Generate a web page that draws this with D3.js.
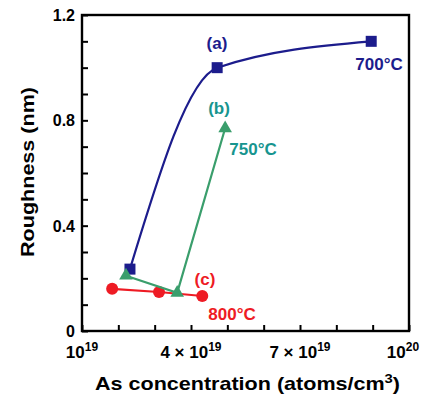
<!DOCTYPE html>
<html>
<head>
<meta charset="utf-8">
<script src="https://cdn.jsdelivr.net/npm/d3@7"></script>
<style>
  body { margin: 0; background: #fff; }
  text { font-family: "Liberation Sans", Arial, sans-serif; font-weight: bold; }
</style>
</head>
<body>
<div id="chart"></div>
<script>
// data (x in units of 1e19 atoms/cm3, y in nm)
const seriesA_x = [2.32, 4.72, 8.96];
const seriesA_y = [0.235, 1.0, 1.1];
const seriesB_x = [2.21, 3.62, 4.94];
const seriesB_y = [0.21, 0.145, 0.77];
const seriesC_x = [1.83, 3.12, 4.31];
const seriesC_y = [0.16, 0.148, 0.133];

const xTickLabels = [[1, "10", "19"], [4, "4 \u00d7 10", "19"], [7, "7 \u00d7 10", "19"], [10, "10", "20"]];
const yTickLabels = [0, 0.4, 0.8, 1.2];

const navy = "#1c1c8c";
const green = "#3a9e6c";
const teal = "#17958f";
const red = "#ee1b24";

const width = 425, height = 398;
const margin = { left: 82, right: 16, top: 15, bottom: 67 };

const svg = d3.select("#chart").append("svg")
  .attr("width", width)
  .attr("height", height);

const x = d3.scaleLinear().domain([1, 10]).range([margin.left, width - margin.right]);
const y = d3.scaleLinear().domain([0, 1.2]).range([height - margin.bottom, margin.top]);

// frame
svg.append("rect")
  .attr("x", x(1)).attr("y", y(1.2))
  .attr("width", x(10) - x(1)).attr("height", y(0) - y(1.2))
  .attr("fill", "none").attr("stroke", "#000").attr("stroke-width", 2.4);

// inward ticks
const xAxis = d3.axisTop(x).tickValues(d3.range(1, 11)).tickSize(6).tickFormat("");
svg.append("g").attr("transform", `translate(0,${y(0)})`).call(xAxis)
  .call(g => g.select(".domain").remove())
  .selectAll("line").attr("stroke-width", 2);

const yAxis = d3.axisRight(y).tickValues(d3.range(0, 13).map(d => d / 10)).tickSize(6).tickFormat("");
svg.append("g").attr("transform", `translate(${x(1)},0)`).call(yAxis)
  .call(g => g.select(".domain").remove())
  .selectAll("line").attr("stroke-width", 2);

// y tick labels
svg.selectAll(".ylab").data(yTickLabels).enter().append("text")
  .attr("x", x(1) - 7)
  .attr("y", d => y(d) + 6)
  .attr("text-anchor", "end")
  .attr("font-size", 16)
  .text(d => d === 0 ? "0" : d.toFixed(1));

// x tick labels with superscripts
const xl = svg.selectAll(".xlab").data(xTickLabels).enter().append("text")
  .attr("x", d => d[0] === 10 ? x(d[0]) - 6 : x(d[0]))
  .attr("y", y(0) + 27)
  .attr("text-anchor", "middle")
  .attr("font-size", 17);
xl.append("tspan").text(d => d[1]);
xl.append("tspan").attr("dy", -7).attr("font-size", 12).text(d => d[2]);

// axis titles
const xt = svg.append("text")
  .attr("x", 95)
  .attr("y", 390)
  .attr("font-size", 19)
  .attr("textLength", 305)
  .attr("lengthAdjust", "spacingAndGlyphs");
xt.append("tspan").text("As concentration (atoms/cm");
xt.append("tspan").attr("dy", -7).attr("font-size", 13).text("3");
xt.append("tspan").attr("dy", 7).text(")");

svg.append("text")
  .attr("transform", `translate(34,257) rotate(-90)`)
  .attr("font-size", 19)
  .attr("textLength", 170)
  .attr("lengthAdjust", "spacingAndGlyphs")
  .text("Roughness (nm)");

// series A: smooth curve with squares
const pa = seriesA_x.map((d, i) => [d, seriesA_y[i]]);
svg.append("path")
  .attr("d", d3.line().x(d => x(d[0])).y(d => y(d[1])).curve(d3.curveMonotoneX)(pa))
  .attr("fill", "none").attr("stroke", navy).attr("stroke-width", 2.2);

// series C
const pc = seriesC_x.map((d, i) => [d, seriesC_y[i]]);
svg.append("path")
  .attr("d", d3.line().x(d => x(d[0])).y(d => y(d[1]))(pc))
  .attr("fill", "none").attr("stroke", red).attr("stroke-width", 2.2);
svg.selectAll(".pc").data(pc).enter().append("circle")
  .attr("cx", d => x(d[0])).attr("cy", d => y(d[1])).attr("r", 6)
  .attr("fill", red);

svg.selectAll(".pa").data(pa).enter().append("rect")
  .attr("x", d => x(d[0]) - 5.5).attr("y", d => y(d[1]) - 5.5)
  .attr("width", 11).attr("height", 11)
  .attr("fill", navy);

// series B
const pb = seriesB_x.map((d, i) => [d, seriesB_y[i]]);
svg.append("path")
  .attr("d", d3.line().x(d => x(d[0])).y(d => y(d[1]))(pb))
  .attr("fill", "none").attr("stroke", green).attr("stroke-width", 2.2);
svg.selectAll(".pb").data(pb).enter().append("path")
  .attr("transform", d => `translate(${x(d[0])},${y(d[1])})`)
  .attr("d", d3.symbol(d3.symbolTriangle, 80))
  .attr("fill", green);

// annotations
const notes = [
  ["(a)", 217, 49, navy, 17],
  ["700\u00b0C", 379, 70, navy, 17],
  ["(b)", 219, 114, teal, 17],
  ["750\u00b0C", 253, 155, teal, 17],
  ["(c)", 205, 285, red, 17],
  ["800\u00b0C", 232, 320, red, 17]
];
svg.selectAll(".note").data(notes).enter().append("text")
  .attr("x", d => d[1]).attr("y", d => d[2])
  .attr("text-anchor", "middle")
  .attr("fill", d => d[3])
  .attr("font-size", d => d[4])
  .text(d => d[0]);
</script>
</body>
</html>
